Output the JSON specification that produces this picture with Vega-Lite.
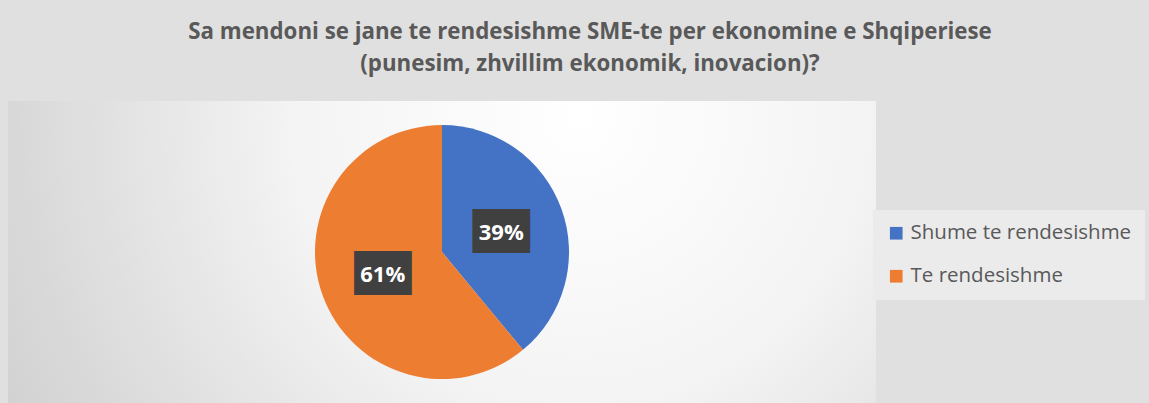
{
  "$schema": "https://vega.github.io/schema/vega-lite/v6.json",
  "width": 868,
  "height": 302,
  "autosize": {"type": "none"},
  "padding": {"left": 8, "top": 101, "right": 273, "bottom": 0},
  "background": "#e0e0e0",
  "title": {
    "text": ["Sa mendoni se jane te rendesishme SME-te per ekonomine e Shqiperiese", "(punesim, zhvillim ekonomik, inovacion)?"],
    "font": "Open Sans",
    "fontSize": 22.3,
    "fontWeight": "bold",
    "color": "#595959",
    "lineHeight": 32,
    "anchor": "middle",
    "frame": "group",
    "dx": 148,
    "offset": 26
  },
  "data": {
    "values": [
      {"category": "Shume te rendesishme", "value": 0.39},
      {"category": "Te rendesishme", "value": 0.61}
    ]
  },
  "layer": [
    {
      "mark": {
        "type": "rect",
        "color": {
          "gradient": "radial",
          "x1": 0.657, "y1": 0.344, "r1": 0,
          "x2": 0.657, "y2": 0.344, "r2": 0.93,
          "stops": [
            {"offset": 0, "color": "#ffffff"},
            {"offset": 0.35, "color": "#f4f4f4"},
            {"offset": 0.7, "color": "#d8d8d8"},
            {"offset": 1, "color": "#c4c4c4"}
          ]
        }
      },
      "encoding": {}
    },
    {
      "mark": {"type": "arc", "outerRadius": 127},
      "encoding": {
        "theta": {"field": "value", "type": "quantitative", "stack": true},
        "color": {
          "field": "category",
          "type": "nominal",
          "scale": {"domain": ["Shume te rendesishme", "Te rendesishme"], "range": ["#4472C4", "#ED7D31"]},
          "legend": {
            "title": null,
            "orient": "none",
            "legendX": 865,
            "legendY": 109,
            "symbolType": "square",
            "symbolSize": 160,
            "symbolStrokeWidth": 0,
            "labelFont": "Open Sans",
            "labelFontSize": 20.5,
            "labelColor": "#595959",
            "labelLimit": 400,
            "labelOffset": 4,
            "fillColor": "#ebebeb",
            "padding": 13,
            "rowPadding": 22
          }
        }
      }
    },
    {
      "mark": {"type": "text", "radius": 63, "text": "██", "font": "DejaVu Sans", "fontSize": 37, "color": "#404040", "align": "center", "baseline": "middle", "dy": 2},
      "encoding": {
        "theta": {"field": "value", "type": "quantitative", "stack": true}
      }
    },
    {
      "mark": {"type": "text", "radius": 63, "font": "Open Sans", "fontSize": 22, "fontWeight": "bold", "color": "#ffffff", "align": "center", "baseline": "middle", "dy": 2},
      "encoding": {
        "theta": {"field": "value", "type": "quantitative", "stack": true},
        "text": {"field": "value", "type": "quantitative", "format": ".0%"}
      }
    }
  ],
  "config": {"view": {"stroke": null}}
}
